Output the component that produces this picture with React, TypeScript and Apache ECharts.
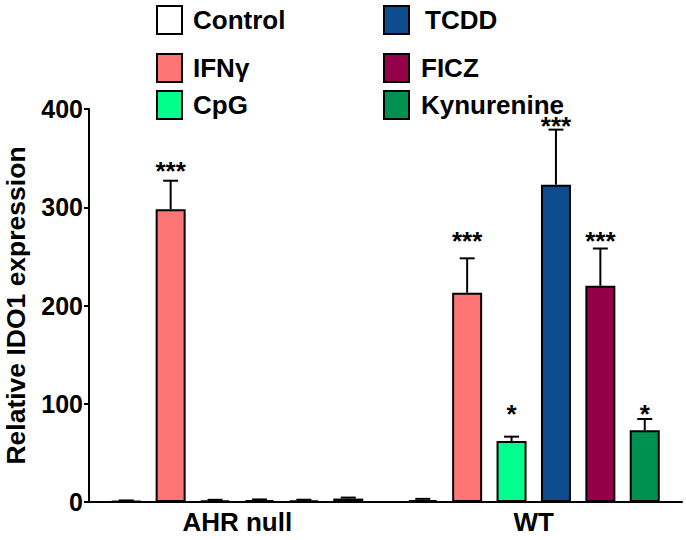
import React, { useEffect, useRef } from "react";
import * as echarts from "echarts";

const categories = ["AHR null", "WT"];
const seriesNames = ["Control", "IFNγ", "CpG", "TCDD", "FICZ", "Kynurenine"];
const colors = ["#FFFFFF", "#FF7575", "#00FF8C", "#0D4D8F", "#930049", "#009150"];
// means per series: [AHR null, WT]
const controlVals = [1, 2];
const ifngVals = [298, 213];
const cpgVals = [1.5, 62];
const tcddVals = [2, 323];
const ficzVals = [1.5, 220];
const kynVals = [3.5, 73];
// upper error bar ends
const controlErr = [1.6, 3.2];
const ifngErr = [327, 248];
const cpgErr = [2.2, 66.5];
const tcddErr = [2.6, 379];
const ficzErr = [2.3, 258];
const kynErr = [4.5, 84.5];
// significance marks
const controlSig = ["", ""];
const ifngSig = ["***", "***"];
const cpgSig = ["", "*"];
const tcddSig = ["", "***"];
const ficzSig = ["", "***"];
const kynSig = ["", "*"];
// level (in axis units) at which the bottom of each mark sits
const controlSigLevel = [0, 0];
const ifngSigLevel = [335, 264];
const cpgSigLevel = [0, 87.5];
const tcddSigLevel = [0, 381];
const ficzSigLevel = [0, 264];
const kynSigLevel = [0, 87.5];
const yTicks = [0, 100, 200, 300, 400];

const allVals = [controlVals, ifngVals, cpgVals, tcddVals, ficzVals, kynVals];
const allErr = [controlErr, ifngErr, cpgErr, tcddErr, ficzErr, kynErr];
const allSig = [controlSig, ifngSig, cpgSig, tcddSig, ficzSig, kynSig];
const allSigLevel = [controlSigLevel, ifngSigLevel, cpgSigLevel, tcddSigLevel, ficzSigLevel, kynSigLevel];

const FONT = "Liberation Sans, Arial, sans-serif";
const BAR_W = 30;
const GAP = 14.4;

const legendPos = [
  { left: 156, top: 5 },
  { left: 156, top: 53 },
  { left: 156, top: 90 },
  { left: 383, top: 5 },
  { left: 383, top: 53 },
  { left: 383, top: 90 },
];
const legendTextPad = [6, 6, 6, 11, 7, 7];

export default function App() {
  const ref = useRef<HTMLDivElement>(null);
  useEffect(() => {
    if (!ref.current) return;
    const chart = echarts.init(ref.current, undefined, { renderer: "svg" });
    const barSeries: any[] = seriesNames.map((name, i) => ({
      name,
      type: "bar",
      data: allVals[i],
      barWidth: BAR_W,
      barGap: (GAP / BAR_W) * 100 + "%",
      itemStyle: { color: colors[i], borderColor: "#000", borderWidth: 2 },
      z: 2,
    }));
    const errSeries: any[] = seriesNames.map((name, i) => ({
      type: "custom",
      name: name + "-err",
      z: 3,
      data: categories.map((_, c) => [c, allVals[i][c], allErr[i][c], allSigLevel[i][c]]),
      renderItem: (params: any, api: any) => {
        const c = api.value(0);
        const base = api.coord([c, api.value(1)]);
        const top = api.coord([c, api.value(2)]);
        const sigPt = api.coord([c, api.value(3)]);
        const x = base[0] + (i - 2.5) * (BAR_W + GAP);
        const sig = allSig[i][c];
        const children: any[] = [
          {
            type: "line",
            shape: { x1: x, y1: base[1], x2: x, y2: top[1] },
            style: { stroke: "#000", lineWidth: 2 },
          },
          {
            type: "line",
            shape: { x1: x - 7.5, y1: top[1], x2: x + 7.5, y2: top[1] },
            style: { stroke: "#000", lineWidth: 2 },
          },
        ];
        if (sig) {
          children.push({
            type: "text",
            x: x,
            y: sigPt[1] + 11,
            style: {
              text: sig,
              fill: "#000",
              font: "bold 26px " + FONT,
              textAlign: "center",
              textVerticalAlign: "bottom",
            },
          });
        }
        return { type: "group", children };
      },
    }));
    chart.setOption({
      animation: false,
      backgroundColor: "#fff",
      grid: { left: 89, right: 4, top: 109, bottom: 38, containLabel: false, outerBoundsMode: "none" },
      legend: seriesNames.map((n, i) => ({
        data: [n],
        left: legendPos[i].left,
        top: legendPos[i].top,
        padding: 0,
        itemWidth: 25,
        itemHeight: 28,
        icon: "rect",
        selectedMode: false,
        textStyle: {
          fontFamily: FONT,
          fontWeight: "bold",
          fontSize: 26,
          color: "#000",
          padding: [0, 0, 0, legendTextPad[i]],
        },
      })),
      xAxis: {
        type: "category",
        data: categories,
        axisLine: { lineStyle: { color: "#000", width: 2 } },
        axisTick: { alignWithLabel: true, length: 5, lineStyle: { color: "#000", width: 2 } },
        axisLabel: {
          fontFamily: FONT,
          fontWeight: "bold",
          fontSize: 26,
          color: "#000",
          margin: 7,
        },
      },
      yAxis: {
        type: "value",
        min: yTicks[0],
        max: yTicks[yTicks.length - 1],
        interval: 100,
        name: "Relative IDO1 expression",
        nameLocation: "middle",
        nameRotate: 90,
        nameGap: 61,
        nameTextStyle: { fontFamily: FONT, fontWeight: "bold", fontSize: 26.5, lineHeight: 24, color: "#000" },
        splitLine: { show: false },
        axisLine: { show: true, lineStyle: { color: "#000", width: 2 } },
        axisTick: { show: true, length: 5, lineStyle: { color: "#000", width: 2 } },
        axisLabel: {
          fontFamily: FONT,
          fontWeight: "bold",
          fontSize: 25,
          color: "#000",
          margin: 6,
        },
      },
      series: [...barSeries, ...errSeries],
    });
    return () => chart.dispose();
  }, []);
  return (
    <div
      ref={ref}
      style={{ position: "fixed", left: 0, top: 0, width: 686, height: 540 }}
    />
  );
}
